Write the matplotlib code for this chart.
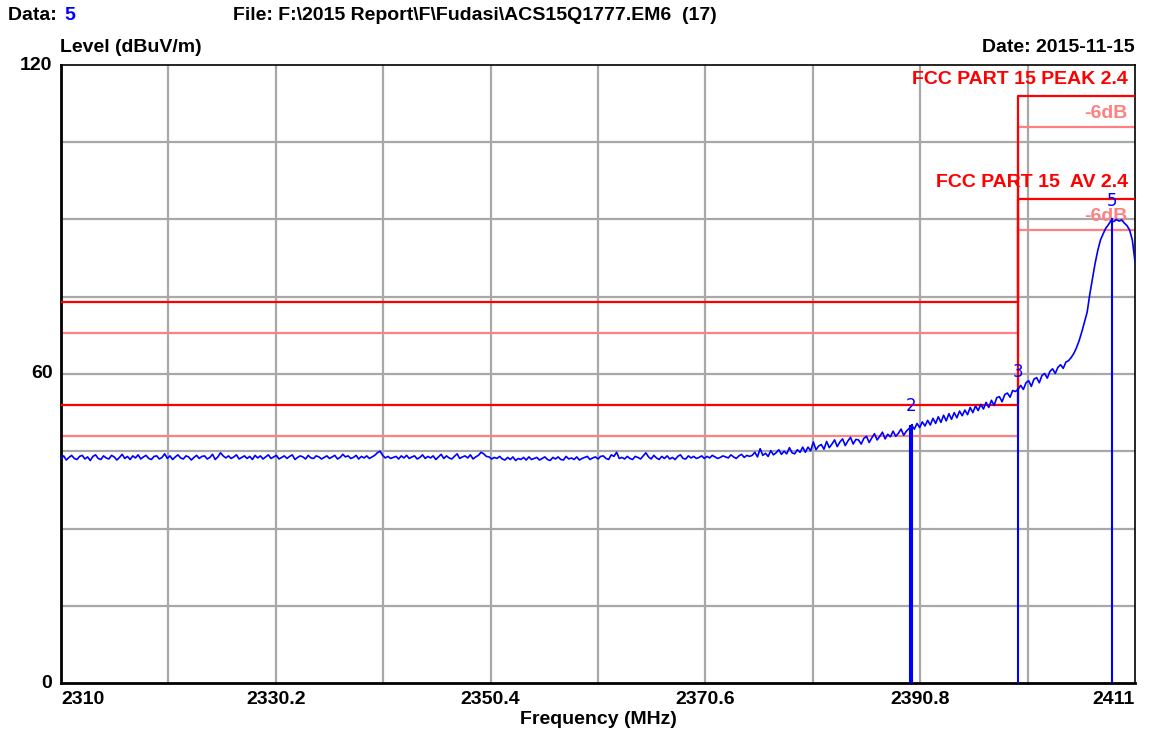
import numpy as np
import matplotlib
matplotlib.use("Agg")
import matplotlib.pyplot as plt
from matplotlib import font_manager

# ---------------- data ----------------
f_start, f_stop, f_step = 2310.0, 2411.0, 0.25
level = [
    # 2310 - 2314.75
    43.6, 44.1, 43.3, 43.8, 44.2, 43.6, 43.4, 44.0, 44.2, 43.5, 43.9, 43.2, 44.0, 44.3, 43.6, 43.4, 44.1, 43.7, 43.5, 44.2,
    # 2315
    43.9, 43.3, 43.8, 44.4, 43.6, 44.0, 43.4, 44.1, 43.7, 44.3, 43.5, 43.9, 44.2, 43.6, 43.4, 44.0, 44.1, 43.5, 43.8, 44.5,
    # 2320
    43.6, 44.1, 43.4, 43.9, 44.3, 43.7, 43.5, 44.1, 43.9, 43.3, 43.8, 44.2, 43.6, 44.0, 44.1, 43.5, 43.8, 44.4, 43.4, 43.9,
    # 2325
    44.7, 44.1, 43.7, 44.1, 43.6, 43.9, 44.3, 43.5, 43.8, 44.1, 43.6, 44.0, 43.4, 44.2, 43.7, 44.1, 43.5, 43.9, 44.3, 43.6,
    # 2330
    43.9, 44.2, 43.5, 43.8, 44.1, 43.6, 44.0, 44.3, 43.4, 43.8, 44.1, 43.9, 43.5, 44.2, 43.7, 43.6, 44.1, 43.9, 43.5, 43.8,
    # 2335
    44.1, 43.6, 43.9, 44.2, 43.5, 43.8, 44.4, 43.9, 44.1, 43.6, 43.8, 44.2, 43.5, 44.0, 43.7, 44.1, 43.6, 43.9, 44.2, 44.7,
    # 2340
    45.0, 44.2, 43.7, 44.0, 43.6, 43.8, 44.0, 43.5, 44.1, 43.7, 44.2, 43.6, 43.9, 44.1, 43.5, 43.8, 44.3, 43.6, 44.0, 43.7,
    # 2345
    44.1, 43.4, 43.9, 44.4, 43.6, 44.1, 43.7, 43.5, 44.0, 44.5, 43.6, 43.9, 44.1, 43.7, 44.3, 43.5, 43.9, 44.2, 44.8, 44.5,
    # 2350
    44.0, 43.9, 43.5, 43.8, 43.6, 44.0, 43.5, 43.3, 43.8, 43.4, 43.9, 43.2, 43.6, 43.4, 43.8, 43.3, 43.9, 43.4, 43.6, 43.8,
    # 2355
    43.3, 43.6, 43.9, 43.4, 43.2, 43.8, 43.5, 43.9, 43.4, 43.3, 44.0, 43.5, 43.7, 43.4, 43.9, 43.3, 43.6, 43.8, 44.0, 43.4,
    # 2360
    43.7, 43.9, 43.5, 44.0, 44.1, 43.6, 43.4, 44.3, 44.0, 44.8, 43.6, 43.8, 43.5, 44.0, 43.6, 43.4, 44.0, 43.8, 43.5, 44.1,
    # 2365
    44.7, 43.9, 43.5, 44.2, 43.7, 43.4, 44.0, 43.6, 44.1, 43.5, 43.8, 43.4, 44.0, 44.3, 43.6, 43.5, 44.1, 43.7, 44.0, 43.6,
    # 2370
    43.8, 44.1, 43.6, 44.0, 43.7, 44.2, 43.9, 43.6, 43.8, 44.1, 43.9, 43.7, 44.3, 43.9, 43.6, 44.1, 44.4, 43.8, 44.2, 44.0,
    # 2375
    44.2, 44.8, 43.9, 45.5, 44.2, 44.6, 44.0, 45.1, 44.3, 44.7, 45.3, 44.4, 45.0, 44.5, 45.7, 44.7, 44.5, 45.3, 44.8, 45.8,
    # 2380
    44.8, 45.8, 45.1, 46.8, 45.3, 46.0, 46.3, 45.4, 46.9, 45.7, 46.4, 47.2, 45.9, 46.8, 47.4, 46.1, 47.0, 47.7, 46.4, 47.3,
    # 2385
    47.2, 46.4, 47.5, 47.9, 46.7, 47.6, 48.4, 47.2, 47.9, 48.7, 47.4, 48.3, 47.8, 48.9, 47.9, 48.5, 49.3, 48.1, 48.9, 49.4,
    # 2390
    50.0, 49.3, 50.4, 49.6, 50.7, 49.9, 51.0, 50.1, 51.4, 50.4, 51.7, 50.6, 52.0, 50.9, 52.3, 51.2, 52.5, 51.5, 52.8, 51.9,
    # 2395
    53.0, 52.1, 53.5, 52.5, 53.8, 52.9, 54.1, 53.2, 54.5, 53.5, 54.9, 53.9, 55.4, 55.6, 54.6, 56.0, 56.3, 55.5, 56.8, 56.6,
    # 2400
    57.0, 57.8, 57.0, 58.3, 58.7, 57.6, 59.0, 59.3, 58.3, 59.7, 60.1, 59.2, 60.5, 61.0, 60.1, 61.3, 61.8, 61.1, 62.3, 62.6,
    # 2405
    63.2, 64.0, 65.1, 66.5, 68.2, 70.1, 72.0, 75.5, 78.5, 81.5, 84.0, 86.0, 87.2, 88.3, 89.0, 89.8, 89.6, 90.0, 89.7, 89.9,
    # 2410 - 2411
    89.3, 88.8, 87.9, 86.0, 81.8,
]

limit_edges = [2310, 2400, 2411]
peak_limit = [74, 114]
peak_limit_6db = [68, 108]
av_limit = [54, 94]
av_limit_6db = [48, 88]

marker_freq = [2389.85, 2390.0, 2400.0, 2408.8]
marker_level = [49.9, 50.1, 57.0, 90.0]
marker_label = ["2", "3", "5"]
marker_label_freq = [2389.95, 2400.0, 2408.8]
marker_label_level = [52.0, 58.6, 91.8]

x_ticks = [2310, 2330.2, 2350.4, 2370.6, 2390.8, 2411]
x_tick_labels = ["2310", "2330.2", "2350.4", "2370.6", "2390.8", "2411"]
y_ticks = [0, 60, 120]
y_tick_labels = ["0", "60", "120"]

# ---------------- style ----------------
avail = {f.name for f in font_manager.fontManager.ttflist}
FAM = ["Liberation Sans Narrow", "Liberation Sans", "DejaVu Sans"]
FAM = [f for f in FAM if f in avail] or ["DejaVu Sans"]
plt.rcParams["font.family"] = FAM
plt.rcParams["font.weight"] = "bold"

RED = "#ff0000"
SALMON = "#ff8080"
BLUE = "#0000ff"
GRID = "#a8a8a8"

fig = plt.figure(figsize=(11.62, 7.35), dpi=100)
ax = fig.add_axes([61 / 1162, 52 / 735, (1135 - 61) / 1162, (683 - 65) / 735])
ax.set_xlim(2310, 2411)
ax.set_ylim(0, 120)

# grid
for gx in np.arange(10) * 10.1 + 2310 + 10.1:
    if gx < 2410.9:
        ax.axvline(gx, color=GRID, lw=1.6, zorder=1)
for gy in np.arange(1, 8) * 15:
    ax.axhline(gy, color=GRID, lw=1.6, zorder=1)

# limits
def step_xy(levels):
    xs = [limit_edges[0], limit_edges[1], limit_edges[1], limit_edges[2]]
    ys = [levels[0], levels[0], levels[1], levels[1]]
    return xs, ys

for lv, col in [(peak_limit_6db, SALMON), (av_limit_6db, SALMON)]:
    xs, ys = step_xy(lv)
    ax.plot(xs, ys, color=col, lw=1.6, zorder=2)
for lv, col in [(peak_limit, RED), (av_limit, RED)]:
    xs, ys = step_xy(lv)
    ax.plot(xs, ys, color=col, lw=1.6, zorder=3)

# trace
freq = np.arange(len(level)) * f_step + f_start
ax.plot(freq, level, color=BLUE, lw=1.2, zorder=5)

# markers
for mf, ml in zip(marker_freq, marker_level):
    ax.plot([mf, mf], [0, ml], color=BLUE, lw=1.5, zorder=6)
for lab, lf, ll in zip(marker_label, marker_label_freq, marker_label_level):
    ax.text(lf, ll, lab, color=BLUE, fontsize=12, fontweight="normal",
            ha="center", va="bottom", zorder=7, family=["DejaVu Sans"])

# limit labels
ax.text(2410.3, peak_limit[1] + 1.5, "FCC PART 15 PEAK 2.4", color=RED, fontsize=14,
        fontweight="bold", ha="right", va="bottom", zorder=8)
ax.text(2410.3, peak_limit_6db[1] + 1.0, "-6dB", color=SALMON, fontsize=14,
        fontweight="bold", ha="right", va="bottom", zorder=8)
ax.text(2410.3, av_limit[1] + 1.5, "FCC PART 15  AV 2.4", color=RED, fontsize=14,
        fontweight="bold", ha="right", va="bottom", zorder=8)
ax.text(2410.3, av_limit_6db[1] + 1.0, "-6dB", color=SALMON, fontsize=14,
        fontweight="bold", ha="right", va="bottom", zorder=4)

# axes frame
for s in ax.spines.values():
    s.set_color("black")
    s.set_linewidth(1.2)
ax.spines["left"].set_linewidth(2.0)
ax.spines["bottom"].set_linewidth(2.0)
ax.set_xticks([])
ax.set_yticks([])

# tick labels
for xv, xl in zip(x_ticks, x_tick_labels):
    ha = "center"
    if xv == x_ticks[0]:
        ha = "left"
    elif xv == x_ticks[-1]:
        ha = "right"
    ax.text(xv, -1.5, xl, ha=ha, va="top", fontsize=14, fontweight="bold")
for yv, yl in zip(y_ticks, y_tick_labels):
    ax.text(2309.2, yv, yl, ha="right", va="center", fontsize=14, fontweight="bold")

# titles
fig.text(8 / 1162, 1 - 15 / 735, "Data: ", ha="left", va="center", fontsize=14, fontweight="bold")
fig.text(64 / 1162, 1 - 15 / 735, "5", ha="left", va="center", fontsize=14, fontweight="bold", color=BLUE)
fig.text(233 / 1162, 1 - 15 / 735, "File: F:\\2015 Report\\F\\Fudasi\\ACS15Q1777.EM6  (17)",
         ha="left", va="center", fontsize=14, fontweight="bold")
fig.text(60 / 1162, 1 - 48 / 735, "Level (dBuV/m)", ha="left", va="center", fontsize=14, fontweight="bold")
fig.text(1135 / 1162, 1 - 48 / 735, "Date: 2015-11-15", ha="right", va="center", fontsize=14, fontweight="bold")
fig.text(598 / 1162, 1 - 720 / 735, "Frequency (MHz)", ha="center", va="center", fontsize=14, fontweight="bold")

fig.savefig("out.png", dpi=100, facecolor="white")
